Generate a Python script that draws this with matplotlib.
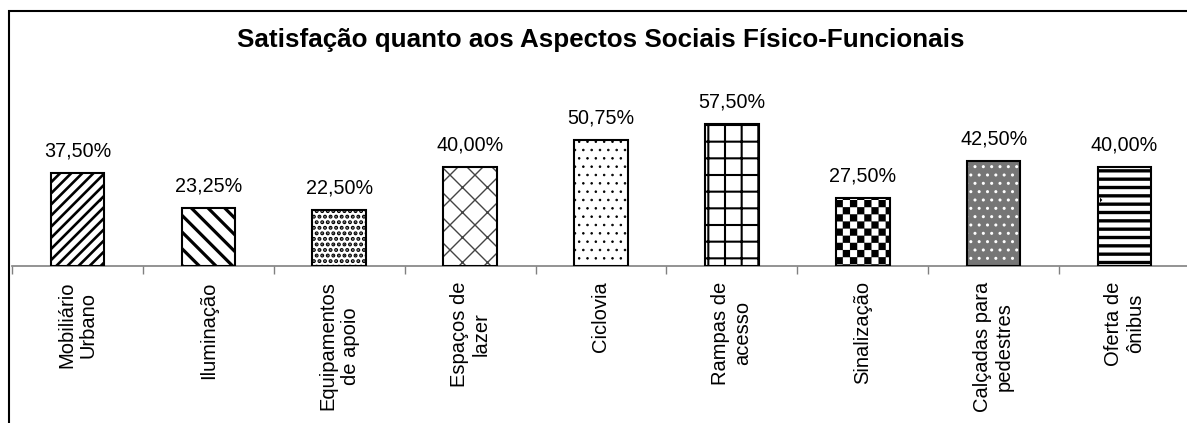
import warnings
import matplotlib
matplotlib.use("Agg")
import matplotlib.pyplot as plt
from matplotlib import hatch as mhatch
from matplotlib.path import Path
from matplotlib.patches import Rectangle
import numpy as np

warnings.filterwarnings("ignore")

categories = ["Mobiliário\nUrbano", "Iluminação", "Equipamentos\nde apoio",
              "Espaços de\nlazer", "Ciclovia", "Rampas de\nacesso",
              "Sinalização", "Calçadas para\npedestres", "Oferta de\nônibus"]
values = [37.50, 23.25, 22.50, 40.00, 50.75, 57.50, 27.50, 42.50, 40.00]

# fill style per bar: hatch, face colour, hatch colour, hatch line width
hatches = ["///", "\\\\", "...", "k", "..", "+", "c", "..", "--"]
faces = ["white", "white", "white", "white", "white", "white", "white", "#767676", "white"]
hatch_colors = ["black", "black", "black", "#444444", "black", "black", "black", "white", "black"]
hatch_widths = [1.9, 2.3, 2.0, 1.0, 0.6, 1.5, 0.1, 1.0, 2.4]


# checkerboard hatch, not built into matplotlib
class CheckerHatch(mhatch.HatchPatternBase):
    def __init__(self, hatch, density):
        self.n = 14 if "c" in hatch else 0
        self.num_vertices = (self.n * self.n // 2) * 5

    def set_vertices_and_codes(self, vertices, codes):
        s = 1.0 / self.n
        k = 0
        for i in range(self.n):
            for j in range(self.n):
                if (i + j) % 2 == 0:
                    x0, y0 = i * s, j * s
                    vertices[k:k + 5] = [(x0, y0), (x0 + s, y0), (x0 + s, y0 + s),
                                         (x0, y0 + s), (x0, y0)]
                    codes[k:k + 5] = [Path.MOVETO, Path.LINETO, Path.LINETO,
                                      Path.LINETO, Path.CLOSEPOLY]
                    k += 5


# diagonal crosshatch a bit finer than 'x'
class DiamondHatch(mhatch.HatchPatternBase):
    def __init__(self, hatch, density):
        self.n = 8 if "k" in hatch else 0
        self.num_vertices = (self.n + 1) * 4

    def set_vertices_and_codes(self, vertices, codes):
        steps = np.linspace(-0.5, 0.5, self.n + 1)
        ne = np.column_stack([0.0 + steps, 0.0 - steps, 1.0 + steps, 1.0 - steps]).reshape(-1, 2)
        se = np.column_stack([0.0 + steps, 1.0 + steps, 1.0 + steps, 0.0 + steps]).reshape(-1, 2)
        vertices[:] = np.vstack([ne, se])
        codes[0::2] = Path.MOVETO
        codes[1::2] = Path.LINETO


mhatch._hatch_types.append(CheckerHatch)
mhatch._hatch_types.append(DiamondHatch)

plt.rcParams["font.family"] = ["Liberation Sans", "DejaVu Sans"]

W, H = 1187, 423
fig = plt.figure(figsize=(W / 100, H / 100), dpi=100)
ax = fig.add_axes([12 / W, (H - 266) / H, 1178 / W, 198 / H])

x = np.arange(len(categories))
width = 0.41

for i in range(len(values)):
    plt.rcParams["hatch.linewidth"] = hatch_widths[i]
    b = ax.bar(x[i], values[i], width, color=faces[i], edgecolor=hatch_colors[i],
               linewidth=0, hatch=hatches[i], zorder=2)
    for p in b:
        if hasattr(p, "set_hatch_linewidth"):
            p.set_hatch_linewidth(hatch_widths[i])

# outlines
ax.bar(x, values, width, fill=False, edgecolor="black", linewidth=1.5, zorder=3)

for xi, v in zip(x, values):
    ax.annotate(f"{v:.2f}%".replace(".", ","), (xi, v), xytext=(0, 9),
                textcoords="offset points", ha="center", va="bottom", fontsize=14.2)

ax.set_xlim(-0.5, len(categories) - 0.5)
ax.set_ylim(0, 80)
ax.set_xticks(x)
ax.set_xticklabels(categories, rotation=90, ha="center", va="top",
                   multialignment="center", fontsize=14.5)
ax.tick_params(axis="x", which="major", length=0, pad=11)
ax.set_xticks(np.arange(len(categories) + 1) - 0.5, minor=True)
ax.tick_params(axis="x", which="minor", length=6, color="#808080", width=1)
ax.set_yticks([])
for s in ["left", "right", "top"]:
    ax.spines[s].set_visible(False)
ax.spines["bottom"].set_color("#808080")
ax.spines["bottom"].set_linewidth(1.2)

fig.text(0.506, 1 - 40 / H, "Satisfação quanto aos Aspectos Sociais Físico-Funcionais",
         ha="center", va="center", fontsize=18.7, fontweight="bold")

# chart frame (only top and left edges fall inside the picture)
fig.add_artist(Rectangle((9 / W, -0.5), 2, 0.5 + (H - 11) / H, transform=fig.transFigure,
                         fill=False, edgecolor="black", linewidth=1.5))

fig.savefig("out.png", dpi=100)
